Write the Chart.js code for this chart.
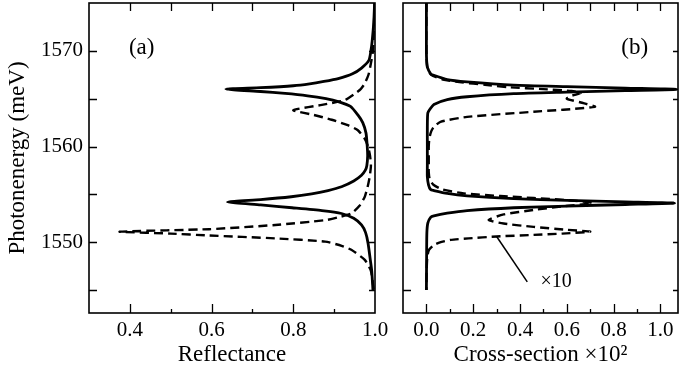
<!DOCTYPE html>
<html>
<head>
<meta charset="utf-8">
<script src="https://cdn.jsdelivr.net/npm/chart.js@4.4.1/dist/chart.umd.min.js"></script>
<style>
  body { margin: 0; background: #fff; }
  #wrap { position: relative; width: 679px; height: 371px; }
  canvas { position: absolute; top: 0; }
  #chartA { left: 0; }
  #chartB { left: 380px; }
</style>
</head>
<body>
<div id="wrap">
  <canvas id="chartA" width="400" height="371"></canvas>
  <canvas id="chartB" width="299" height="371"></canvas>
</div>
<script>
// ---- panel (a): reflectance ----
const energyReflSolid = [1575.0, 1573.0, 1571.0, 1570.0, 1569.0, 1568.2, 1567.6, 1567.1, 1566.8, 1566.55, 1566.35, 1566.15, 1566.0,
  1565.75, 1565.55, 1565.3, 1565.0, 1564.7, 1564.2, 1563.3, 1562.5, 1561.4, 1560.0, 1559.0, 1558.0, 1557.5, 1557.0,
  1556.4, 1555.8, 1555.4, 1555.05, 1554.75, 1554.45, 1554.2, 1553.9, 1553.6, 1553.3, 1553.0, 1552.5, 1551.8, 1551.0, 1549.9,
  1548.0, 1547.0, 1545.0];
const reflSolid = [0.999, 0.997, 0.993, 0.990, 0.985, 0.967, 0.945, 0.910, 0.875, 0.840, 0.800, 0.720, 0.635,
  0.720, 0.780, 0.835, 0.880, 0.910, 0.940, 0.958, 0.970, 0.978, 0.981, 0.982, 0.980, 0.976, 0.967,
  0.948, 0.918, 0.885, 0.845, 0.795, 0.720, 0.639, 0.720, 0.797, 0.870, 0.918, 0.948, 0.967, 0.977, 0.983,
  0.989, 0.992, 0.995];

const energyReflDashed = [1575.0, 1572.0, 1570.0, 1568.7, 1567.5, 1566.6, 1566.0, 1565.5, 1564.85, 1564.35, 1563.8,
  1563.3, 1562.8, 1562.2, 1561.7, 1560.8, 1560.0, 1559.0, 1558.0, 1556.85, 1555.8, 1554.76, 1553.8, 1553.0, 1552.6,
  1552.3, 1551.8, 1551.36, 1551.1, 1550.9, 1550.7, 1550.4, 1550.06, 1549.6, 1549.2, 1548.15, 1547.0, 1545.0];
const reflDashed = [0.999, 0.997, 0.995, 0.990, 0.984, 0.975, 0.965, 0.950, 0.926, 0.870, 0.800,
  0.850, 0.894, 0.935, 0.958, 0.975, 0.983, 0.988, 0.990, 0.987, 0.982, 0.975, 0.962, 0.942, 0.910,
  0.878, 0.756, 0.594, 0.375, 0.500, 0.594, 0.756, 0.878, 0.920, 0.942, 0.975, 0.990, 0.997];

// ---- panel (b): cross-section x 10^2 ----
const energyCrossSolid = [1575.0, 1570.0, 1569.0, 1568.3, 1567.6, 1567.5, 1567.0, 1566.76, 1566.42, 1566.26, 1566.1,
  1565.97, 1565.84, 1565.68, 1565.52, 1565.2, 1564.9, 1564.4, 1564.0, 1563.5, 1562.0, 1560.0, 1558.0, 1556.85,
  1556.0, 1555.5, 1555.4, 1555.1, 1554.85, 1554.55, 1554.38, 1554.22, 1554.08, 1553.94, 1553.78, 1553.6, 1553.3,
  1553.03, 1552.75, 1552.6, 1552.0, 1551.0, 1549.0, 1545.0];
const crossSolid = [0.000, 0.000, 0.001, 0.004, 0.018, 0.025, 0.089, 0.174, 0.373, 0.600, 0.850,
  1.070, 0.850, 0.600, 0.373, 0.174, 0.089, 0.032, 0.018, 0.006, 0.004, 0.004, 0.004, 0.004,
  0.009, 0.018, 0.032, 0.089, 0.174, 0.373, 0.600, 0.850, 1.060, 0.850, 0.600, 0.373, 0.174,
  0.089, 0.032, 0.018, 0.006, 0.002, 0.001, 0.000];

const energyCrossDashed = [1575.0, 1570.0, 1568.3, 1567.5, 1567.0, 1566.7, 1566.45, 1566.2, 1566.0, 1565.8, 1565.6,
  1565.3, 1565.0, 1564.6, 1564.15, 1563.63, 1563.1, 1562.58, 1562.0, 1561.4, 1560.7, 1560.0, 1559.0, 1558.0,
  1557.3, 1556.6, 1556.0, 1555.5, 1555.1, 1554.83, 1554.4, 1554.1, 1553.75, 1553.37, 1552.9, 1552.33, 1551.95,
  1551.6, 1551.3, 1551.1, 1550.9, 1550.76, 1550.6, 1550.4, 1550.24, 1549.95, 1549.7, 1549.2, 1548.5, 1547.0, 1545.0];
const crossDashed = [0.000, 0.000, 0.004, 0.020, 0.070, 0.150, 0.250, 0.350, 0.500, 0.620, 0.660,
  0.620, 0.600, 0.660, 0.720, 0.458, 0.174, 0.060, 0.030, 0.018, 0.012, 0.010, 0.010, 0.010,
  0.010, 0.014, 0.030, 0.070, 0.160, 0.316, 0.600, 0.710, 0.580, 0.458, 0.330, 0.266, 0.330,
  0.458, 0.600, 0.700, 0.580, 0.458, 0.300, 0.180, 0.103, 0.055, 0.032, 0.011, 0.004, 0.001, 0.000];

// pointer from the "x10" note to the dashed curve
const pointerX = [0.30, 0.431];
const pointerE = [1550.6, 1545.86];

// tick labels and tick marks
const energyLabels = [1550, 1560, 1570];
const energyMarks = [1545, 1550, 1555, 1560, 1565, 1570];
const reflLabels = [0.4, 0.6, 0.8, 1.0];
const reflMarks = [0.4, 0.5, 0.6, 0.7, 0.8, 0.9];
const crossLabels = [0.0, 0.2, 0.4, 0.6, 0.8, 1.0];
const crossMarks = [0.0, 0.1, 0.2, 0.3, 0.4, 0.5, 0.6, 0.7, 0.8, 0.9, 1.0];

const SERIF = "'Liberation Serif', 'DejaVu Serif', serif";

function toPoints(xs, ys) {
  return xs.map((x, i) => ({ x: x, y: ys[i] }));
}

function isMajor(v, labels) {
  return labels.some(l => Math.abs(l - v) < 1e-6);
}

// frame, inward ticks on all four sides and panel notes
function frameTicks(spec) {
  return {
    id: 'frameTicks',
    afterDatasetsDraw(chart) {
      const { ctx, chartArea: a, scales: { x, y } } = chart;
      ctx.save();
      ctx.strokeStyle = '#000';
      ctx.lineWidth = 1.6;
      ctx.strokeRect(a.left, a.top, a.right - a.left, a.bottom - a.top);
      ctx.lineWidth = 1.3;
      ctx.beginPath();
      spec.xMarks.forEach(v => {
        const px = Math.round(x.getPixelForValue(v)) + 0.5;
        const len = isMajor(v, spec.xLabels) ? 9 : 4;
        ctx.moveTo(px, a.bottom); ctx.lineTo(px, a.bottom - len);
        ctx.moveTo(px, a.top); ctx.lineTo(px, a.top + 8);
      });
      spec.yMarks.forEach(v => {
        const py = Math.round(y.getPixelForValue(v)) + 0.5;
        ctx.moveTo(a.left, py); ctx.lineTo(a.left + 8, py);
        ctx.moveTo(a.right, py); ctx.lineTo(a.right - spec.rightLen, py);
      });
      ctx.stroke();

      ctx.fillStyle = '#000';
      ctx.textAlign = 'center';
      ctx.textBaseline = 'middle';
      spec.notes.forEach(n => {
        ctx.font = n.size + 'px ' + SERIF;
        ctx.fillText(n.text, x.getPixelForValue(n.x), y.getPixelForValue(n.y));
      });
      ctx.restore();
    }
  };
}

const energyAxis = (withLabels, width) => ({
  type: 'linear',
  min: 1542.6,
  max: 1575,
  afterBuildTicks: s => { s.ticks = energyLabels.map(v => ({ value: v })); },
  afterFit: s => { s.width = width; s.paddingTop = 0; s.paddingBottom = 0; },
  grid: { display: false, drawTicks: false },
  border: { display: false },
  ticks: {
    display: withLabels,
    color: '#000',
    padding: 6,
    font: { family: SERIF, size: 21 },
    callback: v => String(v)
  },
  title: {
    display: withLabels,
    text: 'Photonenergy (meV)',
    color: '#000',
    font: { family: SERIF, size: 23 },
    padding: { top: 4, bottom: 0 }
  }
});

const bottomAxis = (min, max, labels, title) => ({
  type: 'linear',
  min: min,
  max: max,
  afterBuildTicks: s => { s.ticks = labels.map(v => ({ value: v })); },
  afterFit: s => { s.height = 58; s.paddingLeft = 0; s.paddingRight = 0; },
  grid: { display: false, drawTicks: false },
  border: { display: false },
  ticks: {
    color: '#000',
    padding: 5,
    maxRotation: 0,
    autoSkip: false,
    font: { family: SERIF, size: 21 },
    callback: v => Number(v).toFixed(1)
  },
  title: {
    display: true,
    text: title,
    color: '#000',
    font: { family: SERIF, size: 23 },
    padding: { top: 0, bottom: 2 }
  }
});

const solidStyle = { borderColor: '#000', borderWidth: 2.8, pointRadius: 0, showLine: true, tension: 0.2, fill: false };
const dashedStyle = { borderColor: '#000', borderWidth: 2.4, borderDash: [9, 5], pointRadius: 0, showLine: true, tension: 0.2, fill: false };

const baseOptions = {
  responsive: false,
  animation: false,
  plugins: { legend: { display: false }, tooltip: { enabled: false } }
};

new Chart(document.getElementById('chartA'), {
  type: 'scatter',
  data: {
    datasets: [
      Object.assign({ label: 'solid', data: toPoints(reflSolid, energyReflSolid) }, solidStyle),
      Object.assign({ label: 'dashed', data: toPoints(reflDashed, energyReflDashed) }, dashedStyle)
    ]
  },
  options: Object.assign({}, baseOptions, {
    layout: { padding: { left: 0, right: 25, top: 3, bottom: 0 } },
    scales: {
      x: bottomAxis(0.3, 1.0, reflLabels, 'Reflectance'),
      y: energyAxis(true, 89)
    }
  }),
  plugins: [frameTicks({
    xMarks: reflMarks, xLabels: reflLabels, yMarks: energyMarks, rightLen: 6,
    notes: [{ text: '(a)', x: 0.429, y: 1570.3, size: 23 }]
  })]
});

new Chart(document.getElementById('chartB'), {
  type: 'scatter',
  data: {
    datasets: [
      Object.assign({ label: 'solid', data: toPoints(crossSolid, energyCrossSolid) }, solidStyle),
      Object.assign({ label: 'dashed', data: toPoints(crossDashed, energyCrossDashed) }, dashedStyle),
      { label: 'pointer', data: toPoints(pointerX, pointerE), borderColor: '#000', borderWidth: 1.5,
        pointRadius: 0, showLine: true, fill: false }
    ]
  },
  options: Object.assign({}, baseOptions, {
    layout: { padding: { left: 0, right: 1, top: 3, bottom: 0 } },
    scales: {
      x: bottomAxis(-0.1, 1.075, crossLabels, 'Cross-section \u00d710\u00b2'),
      y: energyAxis(false, 23)
    }
  }),
  plugins: [frameTicks({
    xMarks: crossMarks, xLabels: crossLabels, yMarks: energyMarks, rightLen: 5,
    notes: [
      { text: '(b)', x: 0.89, y: 1570.3, size: 23 },
      { text: '\u00d710', x: 0.554, y: 1545.9, size: 20 }
    ]
  })]
});
</script>
</body>
</html>
